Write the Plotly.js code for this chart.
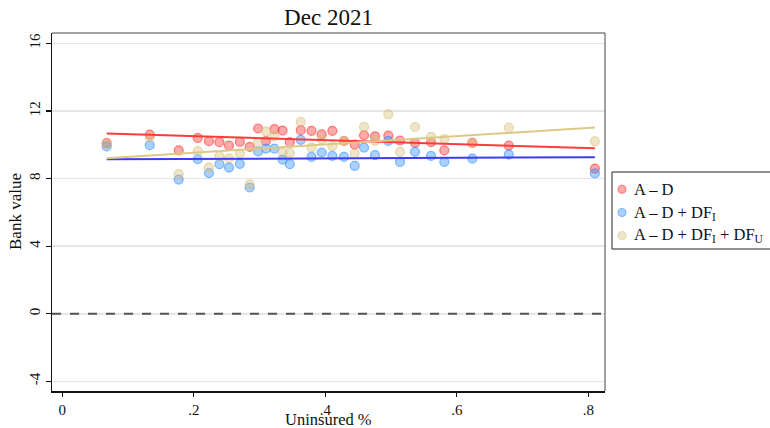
<!DOCTYPE html>
<html>
<head>
<meta charset="utf-8">
<script src="https://cdn.plot.ly/plotly-3.0.1.min.js"></script>
<style>html,body{margin:0;padding:0;background:#fff;}#chart{width:770px;height:428px;}</style>
</head>
<body>
<div id="chart"></div>
<script>
// Uninsured share (x) for each bank group
const uninsured = [0.0675, 0.133, 0.177, 0.206, 0.223, 0.239, 0.2535, 0.270, 0.285, 0.2977,
  0.3098, 0.3225, 0.335, 0.346, 0.3626, 0.379, 0.3945, 0.4107, 0.4284, 0.4447,
  0.4589, 0.4756, 0.4958, 0.5136, 0.5364, 0.5608, 0.581, 0.6236, 0.679, 0.810];
// A - D
const aMinusD = [10.10, 10.60, 9.67, 10.40, 10.21, 10.15, 9.95, 10.17, 9.87, 10.96,
  10.22, 10.92, 10.84, 10.15, 10.86, 10.82, 10.62, 10.82, 10.22, 10.01,
  10.56, 10.50, 10.54, 10.25, 10.11, 10.15, 9.66, 10.11, 9.95, 8.59];
// A - D + DF_I
const aMinusDPlusDFI = [9.90, 9.97, 7.94, 9.14, 8.32, 8.85, 8.65, 8.87, 7.47, 9.60,
  9.77, 9.77, 9.12, 8.85, 10.29, 9.28, 9.54, 9.34, 9.28, 8.75,
  9.83, 9.38, 10.23, 8.98, 9.58, 9.34, 8.98, 9.18, 9.42, 8.30];
// A - D + DF_I + DF_U
const aMinusDPlusDFIU = [10.05, 10.43, 8.26, 9.62, 8.65, 9.32, 9.20, 9.48, 7.65, 10.13,
  10.78, 10.50, 9.54, 9.52, 11.35, 9.83, 10.31, 9.91, 10.22, 9.48,
  11.05, 10.23, 11.80, 9.58, 11.05, 10.46, 10.34, 10.12, 11.01, 10.20];
// Linear fit lines (endpoints)
const fitX = [0.0675, 0.810];
const fitAD = [10.66, 9.79];
const fitADI = [9.14, 9.26];
const fitADIU = [9.20, 11.02];

const seriesNames = ["A – D", "A – D + DF<sub>I</sub>", "A – D + DF<sub>I</sub> + DF<sub>U</sub>"];
const xTickVals = [0, 0.2, 0.4, 0.6, 0.8];
const xTickText = ["0", ".2", ".4", ".6", ".8"];
const yTickVals = [-4, 0, 4, 8, 12, 16];
const yTickText = ["-4", "0", "4", "8", "12", "16"];

const FONT = "Liberation Serif";
const baseColors = ["rgba(255,40,40,", "rgba(40,140,255,", "rgba(215,190,120,"];
const lineColors = ["rgb(255,60,60)", "rgb(60,60,245)", "rgb(222,200,135)"];

function scatter(y, i) {
  const c = baseColors[i];
  return {x: uninsured, y: y, type: "scatter", mode: "markers", name: seriesNames[i],
    showlegend: false,
    marker: {size: 9, color: c + "0.4)", line: {color: c + "0.55)", width: 1.2}}};
}
function fit(y, i) {
  return {x: fitX, y: y, type: "scatter", mode: "lines", showlegend: false,
    hoverinfo: "skip", line: {color: lineColors[i], width: 2}};
}

const traces = [
  scatter(aMinusD, 0), scatter(aMinusDPlusDFI, 1), scatter(aMinusDPlusDFIU, 2),
  fit(fitAD, 0), fit(fitADI, 1), fit(fitADIU, 2)
];

// Plot area in pixels: x 52..605, y 33..391
const plotL = 52, plotR = 605, plotT = 33, plotB = 391;
const px = v => (v - plotL) / (plotR - plotL);
const py = v => (plotB - v) / (plotB - plotT);

// Legend (drawn as shapes + annotations to match the reference placement)
const legendRowsY = [189.3, 212.5, 235.5];
const legendShapes = [
  {type: "rect", xref: "paper", yref: "paper", x0: px(612), x1: px(800), y0: py(249), y1: py(172),
    line: {color: "#222", width: 1}, fillcolor: "#fff", layer: "above"}
];
const legendAnn = [];
legendRowsY.forEach((yy, i) => {
  legendShapes.push({type: "circle", xref: "paper", yref: "paper",
    xsizemode: "pixel", ysizemode: "pixel", xanchor: px(622), yanchor: py(yy),
    x0: -4, x1: 4, y0: -4, y1: 4,
    fillcolor: baseColors[i] + "0.4)", line: {color: baseColors[i] + "0.5)", width: 1.1}, layer: "above"});
  legendAnn.push({text: seriesNames[i], xref: "paper", yref: "paper", x: px(632), y: py(yy),
    xanchor: "left", yanchor: "middle", showarrow: false,
    font: {family: FONT, size: 16.5, color: "#111"}});
});

const layout = {
  width: 770, height: 428,
  margin: {l: plotL, r: 770 - plotR, t: plotT, b: 428 - plotB, autoexpand: false},
  paper_bgcolor: "#fff", plot_bgcolor: "#fff",
  font: {family: FONT, color: "#111", size: 14},
  title: {text: "Dec 2021", font: {family: FONT, size: 23, color: "#111"},
    x: 0.5, xref: "paper", xanchor: "center", y: 0.96, yanchor: "middle"},
  showlegend: false,
  xaxis: {range: [-0.0157, 0.8254], tickvals: xTickVals, ticktext: xTickText,
    showgrid: false, zeroline: false, showline: true, linecolor: "#111", linewidth: 1.5,
    ticks: "outside", ticklen: 4, tickcolor: "#111", tickwidth: 1.2,
    tickfont: {family: FONT, size: 15}},
  yaxis: {range: [-4.57, 16.61], tickvals: yTickVals, ticktext: yTickText,
    showgrid: true, gridcolor: "#e6e6e6", gridwidth: 1.5, zeroline: false,
    showline: true, linecolor: "#111", linewidth: 1.5,
    ticks: "outside", ticklen: 5, tickcolor: "#111", tickwidth: 1.2, tickangle: -90,
    tickfont: {family: FONT, size: 15}},
  annotations: [
    {text: "Uninsured %", xref: "paper", yref: "paper", x: 0.5, y: 0, yshift: -28,
      xanchor: "center", yanchor: "middle", showarrow: false, font: {family: FONT, size: 16.5}},
    {text: "Bank value", xref: "paper", yref: "paper", x: 0, xshift: -37, y: 0.5,
      xanchor: "center", yanchor: "middle", textangle: -90, showarrow: false,
      font: {family: FONT, size: 17}}
  ].concat(legendAnn),
  shapes: [
    {type: "line", xref: "paper", yref: "y", x0: 0, x1: 1, y0: 0, y1: 0,
      line: {color: "#555", width: 2, dash: "dash"}},
    {type: "line", xref: "paper", yref: "paper", x0: 0, x1: 1, y0: 1, y1: 1,
      line: {color: "#444", width: 1}},
    {type: "line", xref: "paper", yref: "paper", x0: 1, x1: 1, y0: 0, y1: 1,
      line: {color: "#444", width: 1}}
  ].concat(legendShapes)
};

Plotly.newPlot("chart", traces, layout, {displayModeBar: false, staticPlot: true});
</script>
</body>
</html>
